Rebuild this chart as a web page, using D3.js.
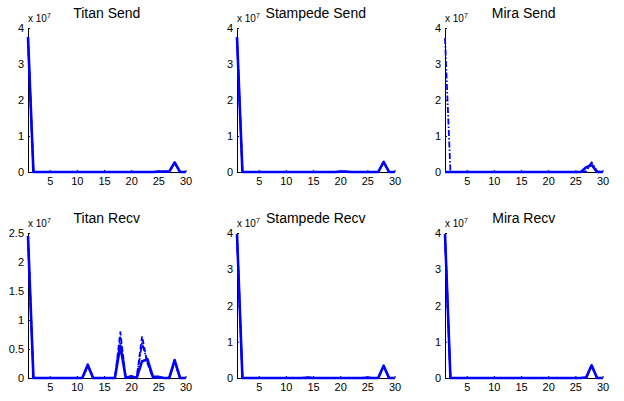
<!DOCTYPE html>
<html>
<head>
<meta charset="utf-8">
<script src="https://cdn.jsdelivr.net/npm/d3@7"></script>
<style>
  body { margin: 0; background: #fff; }
  svg { display: block; }
  text { font-family: "Liberation Sans", Arial, Helvetica, sans-serif; }
</style>
</head>
<body>
<div id="chart"></div>
<script>
// iteration index on the x axis
var iters = [1,2,3,4,5,6,7,8,9,10,11,12,13,14,15,16,17,18,19,20,21,22,23,24,25,26,27,28,29,30];
var xTicks = [5, 10, 15, 20, 25, 30];

// values in units of 1e7 bytes
var titanSendSolid  = [3.75,0,0,0,0,0,0,0,0,0,0,0,0,0,0,0,0,0,0,0,0,0,0,0,0.01,0.01,0.01,0.27,0,0];
var titanSendDash   = [3.72,0,0,0,0,0,0,0,0,0,0,0,0,0,0,0,0,0,0,0,0,0,0,0,0,0.01,0.01,0.26,0,0];
var titanSendDot    = [3.7,0,0,0,0,0,0,0,0,0,0,0,0,0,0,0,0,0,0,0,0,0,0,0,0,0,0.01,0.25,0,0];

var stampSendSolid  = [3.75,0,0,0,0,0,0,0,0,0,0,0,0,0,0,0,0,0,0,0.01,0.01,0,0,0,0,0,0,0.28,0,0];
var stampSendDash   = [3.72,0,0,0,0,0,0,0,0,0,0,0,0,0,0,0,0,0,0,0,0,0,0,0,0,0,0,0.27,0,0];
var stampSendDot    = [3.7,0,0,0,0,0,0,0,0,0,0,0,0,0,0,0,0,0,0,0,0,0,0,0,0,0,0,0.26,0,0];

var miraSendSolid   = [0,0,0,0,0,0,0,0,0,0,0,0,0,0,0,0,0,0,0,0,0,0,0,0,0,0,0.13,0.2,0,0];
var miraSendDash    = [0,0,0,0,0,0,0,0,0,0,0,0,0,0,0,0,0,0,0,0,0,0,0,0,0,0,0.12,0.18,0,0];
var miraSendDot     = [3.72,0,0,0,0,0,0,0,0,0,0,0,0,0,0,0,0,0,0,0,0,0,0,0,0,0,0.02,0.27,0.02,0];

var titanRecvSolid  = [2.45,0,0,0,0,0,0,0,0,0,0,0.23,0,0,0,0,0,0.56,0,0.03,0,0.29,0.32,0.02,0.02,0,0,0.31,0,0];
var titanRecvDash   = [2.4,0,0,0,0,0,0,0,0,0,0,0.2,0,0,0,0,0,0.79,0,0.02,0,0.72,0.25,0,0,0,0,0.28,0,0];
var titanRecvDot    = [2.42,0,0,0,0,0,0,0,0,0,0,0.21,0,0,0,0,0,0.7,0,0.02,0,0.6,0.28,0.01,0,0,0,0.29,0,0];

var stampRecvSolid  = [3.97,0,0,0,0,0,0,0,0,0,0,0,0,0.01,0,0,0,0,0,0,0,0,0,0,0.01,0,0,0.34,0,0];
var stampRecvDash   = [3.95,0,0,0,0,0,0,0,0,0,0,0,0,0.02,0,0,0,0,0,0,0,0,0,0,0,0,0,0.33,0,0];
var stampRecvDot    = [3.93,0,0,0,0,0,0,0,0,0,0,0,0,0,0,0,0,0,0,0,0,0,0,0,0,0,0,0.32,0,0];

var miraRecvSolid   = [3.97,0,0,0,0,0,0,0,0,0,0,0,0,0,0,0,0,0,0,0,0,0,0,0,0,0,0.02,0.35,0,0];
var miraRecvDash    = [3.95,0,0,0,0,0,0,0,0,0,0,0,0,0,0,0,0,0,0,0,0,0,0,0,0,0,0.01,0.34,0,0];
var miraRecvDot     = [3.93,0,0,0,0,0,0,0,0,0,0,0,0,0,0,0,0,0,0,0,0,0,0,0,0,0,0,0.33,0,0];

var titles = ["Titan Send", "Stampede Send", "Mira Send", "Titan Recv", "Stampede Recv", "Mira Recv"];
var yMaxes = [4, 4, 4, 2.5, 4, 4];
var yTickSets = [[0,1,2,3,4], [0,1,2,3,4], [0,1,2,3,4], [0,0.5,1,1.5,2,2.5], [0,1,2,3,4], [0,1,2,3,4]];
var panelSeries = [
  [titanSendSolid, titanSendDash, titanSendDot],
  [stampSendSolid, stampSendDash, stampSendDot],
  [miraSendSolid, miraSendDash, miraSendDot],
  [titanRecvSolid, titanRecvDash, titanRecvDot],
  [stampRecvSolid, stampRecvDash, stampRecvDot],
  [miraRecvSolid, miraRecvDash, miraRecvDot]
];

// solid, dashed, dash-dot like the matlab line styles
var styles = [
  { dash: null, width: 2.6 },
  { dash: "5,3", width: 1.8 },
  { dash: "6,2,1.5,2", width: 1.8 }
];

var W = 624, H = 401;
var lefts = [28, 237, 445];
var tops = [28, 233];
var pw = 157.5, ph = [144, 145];

var svg = d3.select("#chart").append("svg")
  .attr("width", W)
  .attr("height", H);

titles.forEach(function (title, i) {
  var col = i % 3, row = Math.floor(i / 3);
  var h = ph[row];

  var x = d3.scaleLinear().domain([1, 30]).range([0, pw]);
  var y = d3.scaleLinear().domain([0, yMaxes[i]]).range([h, 0]);

  var g = svg.append("g")
    .attr("transform", "translate(" + lefts[col] + "," + tops[row] + ")");

  // axes
  var xAxis = g.append("g")
    .attr("transform", "translate(0," + h + ")")
    .call(d3.axisBottom(x).tickValues(xTicks).tickSizeInner(-2).tickSizeOuter(0).tickPadding(5));

  var yAxis = g.append("g")
    .call(d3.axisLeft(y).tickValues(yTickSets[i]).tickFormat(d3.format("")).tickSizeInner(-2).tickSizeOuter(0).tickPadding(4));

  [xAxis, yAxis].forEach(function (a) {
    a.select(".domain").attr("stroke", "#000");
    a.selectAll("line").attr("stroke", "#000");
    a.selectAll("text")
      .attr("fill", "#000")
      .style("font-size", "11px")
      .style("font-family", "'Liberation Sans', Arial, sans-serif");
  });

  // lines on top of the axes, dashed first so the solid one sits on top
  var line = d3.line()
    .x(function (d, j) { return x(iters[j]); })
    .y(function (d) { return y(d); });

  [2, 1, 0].forEach(function (k) {
    g.append("path")
      .datum(panelSeries[i][k])
      .attr("d", line)
      .attr("fill", "none")
      .attr("stroke", "#0000ff")
      .attr("stroke-width", styles[k].width)
      .attr("stroke-linejoin", "round")
      .attr("stroke-dasharray", styles[k].dash);
  });

  // exponent label
  var ex = g.append("text")
    .attr("x", 0)
    .attr("y", -6)
    .style("font-size", "10px")
    .attr("fill", "#000");
  ex.append("tspan").text("x 10");
  ex.append("tspan").attr("dy", -4).style("font-size", "7px").text("7");

  // title
  g.append("text")
    .attr("x", pw / 2)
    .attr("y", row === 0 ? 17.5 - tops[row] : 222.5 - tops[row])
    .attr("text-anchor", "middle")
    .style("font-size", "14px")
    .attr("fill", "#000")
    .text(title);
});
</script>
</body>
</html>
